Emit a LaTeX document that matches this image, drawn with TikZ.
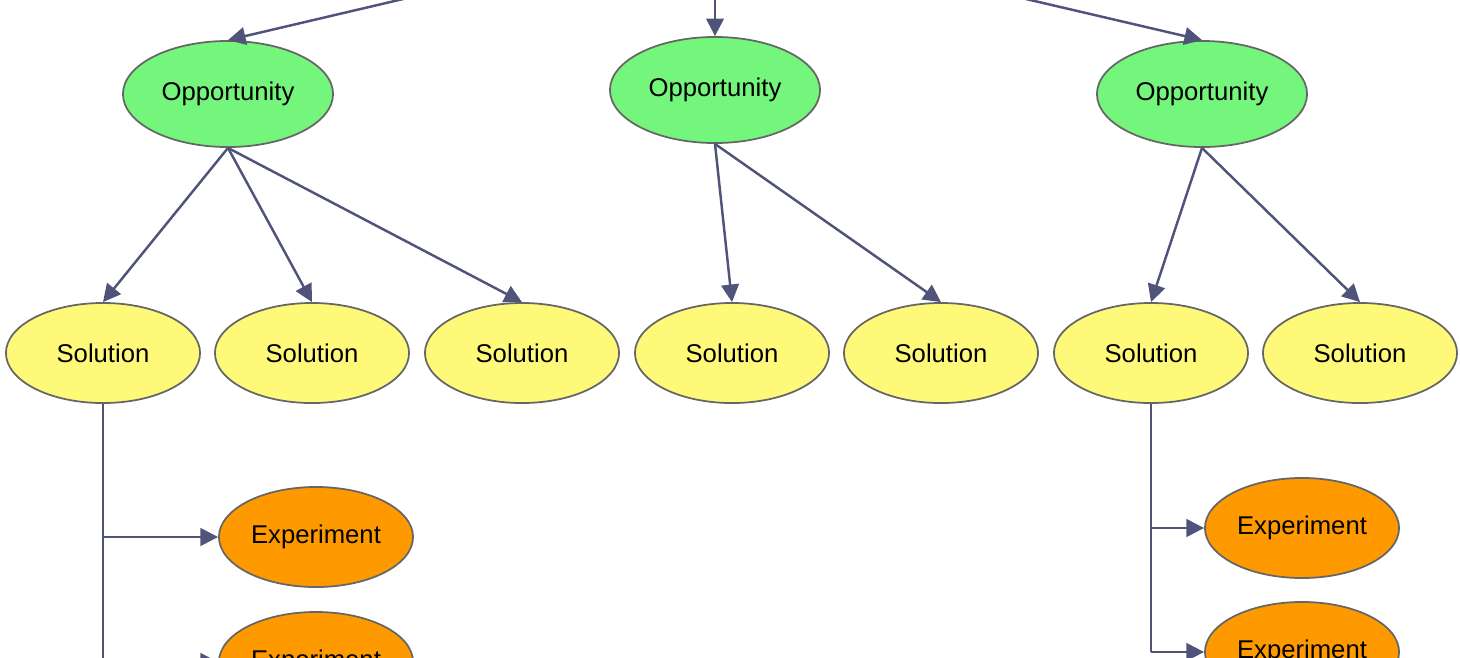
\documentclass[tikz,border=0pt]{standalone}
\usepackage{fontspec}
\setmainfont{Liberation Sans}
\usetikzlibrary{shapes.geometric,arrows.meta}
\definecolor{opp}{HTML}{74F57C}
\definecolor{sol}{HTML}{FFF97A}
\definecolor{exp}{HTML}{FF9900}
\definecolor{edge}{HTML}{50537A}
\begin{document}
\begin{tikzpicture}[x=0.01cm,y=-0.01cm,
  el/.style={ellipse,draw=gray!80!black,line width=0.5pt,inner sep=0pt,font=\fontsize{7.3}{8}\selectfont},
  oppn/.style={el,fill=opp,minimum width=2.1cm,minimum height=1.06cm},
  soln/.style={el,fill=sol,minimum width=1.94cm,minimum height=1.0cm},
  expn/.style={el,fill=exp,minimum width=1.94cm,minimum height=1.0cm},
  con/.style={draw=edge,line width=0.7pt,-{Triangle[length=5pt,width=5pt]}},
  ln/.style={draw=edge,line width=0.7pt}]
\useasboundingbox (0,0) rectangle (1460,657);
\clip (0,0) rectangle (1460,657);
\node[oppn] (o1) at (228,94) {Opportunity};
\node[oppn] (o2) at (715,90) {Opportunity};
\node[oppn] (o3) at (1202,94) {Opportunity};
\foreach \n/\x in {1/103,2/312,3/522,4/732,5/941,6/1151,7/1360}
  \node[soln] (s\n) at (\x,353) {Solution};
\node[expn] (e1) at (316,537) {Experiment};
\node[expn] (e2) at (316,662) {Experiment};
\node[expn] (e3) at (1302,528) {Experiment};
\node[expn] (e4) at (1302,652) {Experiment};
\coordinate (t1) at (433,-8);
\coordinate (t2) at (715,-8);
\coordinate (t3) at (996,-8);
\draw[con] (t1) -- (o1.north);
\draw[con] (t2) -- (o2.north);
\draw[con] (t3) -- (o3.north);
\draw[con] (o1.south) -- (s1.north);
\draw[con] (o1.south) -- (s2.north);
\draw[con] (o1.south) -- (s3.north);
\draw[con] (o2.south) -- (s4.north);
\draw[con] (o2.south) -- (s5.north);
\draw[con] (o3.south) -- (s6.north);
\draw[con] (o3.south) -- (s7.north);
\coordinate (b1) at (103,680);
\draw[ln] (s1.south) -- (b1);
\draw[con] (103,537) -- (e1.west);
\draw[con] (103,662) -- (e2.west);
\draw[ln] (s6.south) -- (1151,652);
\draw[con] (1151,528) -- (e3.west);
\draw[con] (1151,652) -- (e4.west);
\end{tikzpicture}
\end{document}
